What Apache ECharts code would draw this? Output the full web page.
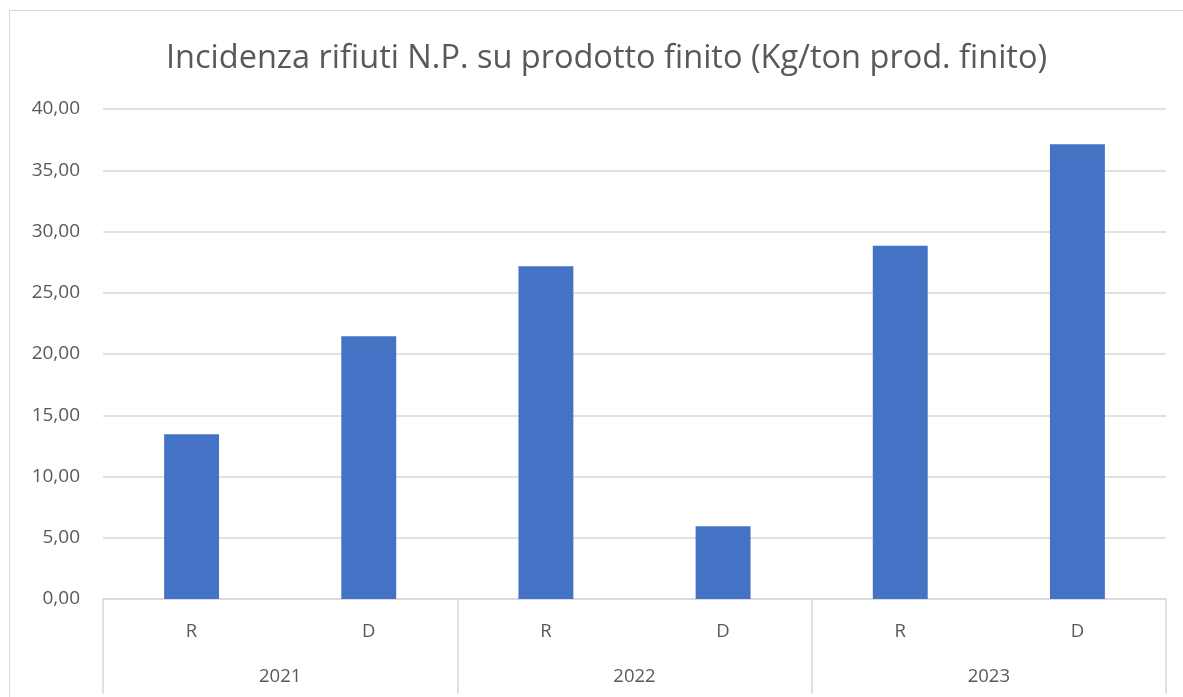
<!DOCTYPE html>
<html>
<head>
<meta charset="utf-8">
<script src="https://cdn.jsdelivr.net/npm/echarts@6.0.0/dist/echarts.min.js"></script>
<style>
    html, body { margin: 0; padding: 0; background: #ffffff; }
    #frame {
        position: absolute; left: 9px; top: 10px; width: 1200px; height: 720px;
        border: 1px solid #d9d9d9; box-sizing: border-box;
    }
    #chart { position: absolute; left: 0; top: 0; width: 1183px; height: 697px; }
</style>
</head>
<body>
<div id="frame"></div>
<div id="chart"></div>
<script>
    // Data
    const types = ['R', 'D', 'R', 'D', 'R', 'D'];
    const years = ['2021', '2022', '2023'];
    const values = [13.45, 21.45, 27.17, 5.93, 28.83, 37.12];
    const yTicks = [0, 5, 10, 15, 20, 25, 30, 35, 40];

    const textColor = '#595959';
    const lineColor = '#d9d9d9';
    const font = 'Open Sans';

    const chart = echarts.init(document.getElementById('chart'));

    const option = {
        animation: false,
        title: {
            text: 'Incidenza rifiuti N.P. su prodotto finito (Kg/ton prod. finito)',
            left: 161,
            top: 37,
            textStyle: { color: textColor, fontFamily: font, fontWeight: 'normal', fontSize: 32.5 }
        },
        grid: { left: 103, right: 17, top: 109, bottom: 98 },
        xAxis: [
            {
                type: 'category',
                data: types,
                position: 'bottom',
                axisLine: { show: true, lineStyle: { color: lineColor, width: 1.5 } },
                axisTick: { show: false },
                axisLabel: { color: textColor, fontFamily: font, fontSize: 18.5, margin: 23 }
            },
            {
                type: 'category',
                data: years,
                position: 'bottom',
                axisLine: { show: false },
                axisTick: {
                    show: true, inside: false, length: 95, interval: 0,
                    lineStyle: { color: lineColor, width: 1.5 }
                },
                axisLabel: { color: textColor, fontFamily: font, fontSize: 18.5, margin: 68 }
            }
        ],
        yAxis: {
            type: 'value',
            min: yTicks[0],
            max: yTicks[yTicks.length - 1],
            interval: 5,
            axisLine: { show: false },
            axisTick: { show: false },
            splitLine: { lineStyle: { color: lineColor, width: 1.5 } },
            axisLabel: {
                color: textColor, fontFamily: font, fontSize: 19, margin: 23,
                formatter: v => v.toFixed(2).replace('.', ',')
            }
        },
        series: [
            {
                type: 'bar',
                xAxisIndex: 0,
                data: values,
                barWidth: '31%',
                itemStyle: { color: '#4472c4' }
            }
        ]
    };
    chart.setOption(option);
</script>
</body>
</html>
